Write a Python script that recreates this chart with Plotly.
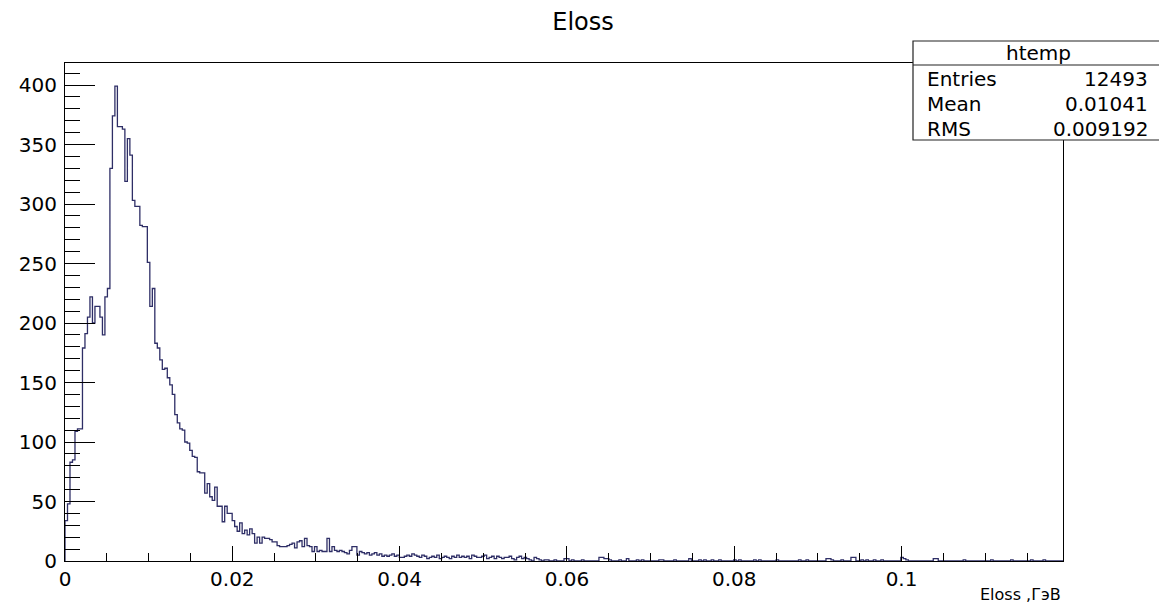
import plotly.graph_objects as go

# ---------------- data ----------------
TITLE = "Eloss"
X_TITLE = "Eloss ,ГэВ"
X_MIN = 0.0
X_MAX = 0.1193
N_BINS = 400
Y_MAX = 418.5

# counts of bins 0..190 (dense part)
COUNTS_DENSE = [
    34, 48, 83, 85, 109, 111, 111, 179, 191, 205,
    222, 200, 214, 214, 205, 190, 222, 229, 330, 374,
    399, 365, 365, 363, 319, 355, 341, 303, 298, 298,
    282, 281, 281, 251, 214, 229, 183, 179, 169, 161,
    162, 154, 148, 140, 123, 116, 111, 110, 100, 99,
    93, 88, 87, 75, 74, 74, 57, 65, 54, 51,
    62, 46, 46, 33, 46, 40, 40, 34, 29, 25,
    32, 23, 26, 22, 27, 23, 15, 20, 15, 20,
    19, 19, 18, 16, 16, 13, 12, 12, 12, 13,
    14, 15, 11, 16, 17, 12, 19, 13, 12, 8,
    12, 8, 9, 8, 8, 19, 8, 12, 9, 8,
    9, 8, 7, 6, 9, 12, 12, 5, 8, 7,
    6, 7, 5, 6, 7, 5, 6, 4, 5, 4,
    5, 6, 4, 5, 3, 3, 4, 5, 4, 6,
    5, 4, 3, 5, 4, 2, 3, 4, 3, 5,
    2, 3, 4, 3, 2, 4, 3, 5, 3, 4,
    3, 4, 2, 5, 4, 3, 3, 4, 5, 2,
    3, 4, 2, 4, 3, 2, 3, 3, 4, 2,
    1, 3, 4, 2, 3, 2, 1, 0, 3, 2,
    1,
]

# sparse tail: bin index -> count (all other tail bins are empty)
TAIL_BINS = [192, 193, 196, 200, 201, 203, 207, 214, 215, 216, 217, 218, 222, 225,
             229, 231, 238, 239, 244, 250, 254, 256, 259, 262, 268, 270, 276, 278,
             285, 294, 297, 305, 306, 307, 311, 315, 316, 319, 321, 324, 327, 335,
             336, 337, 348, 349, 360, 371, 379, 387, 392]
TAIL_COUNTS = [1, 1, 1, 2, 2, 1, 1, 3, 3, 2, 2, 1, 1, 2,
               1, 1, 1, 1, 1, 2, 1, 1, 1, 1, 1, 1, 1, 1,
               1, 1, 1, 2, 2, 1, 1, 3, 3, 1, 1, 1, 1, 3,
               2, 1, 2, 2, 1, 1, 1, 1, 1]

X_TICKS = [0, 0.02, 0.04, 0.06, 0.08, 0.1]
X_TICK_LABELS = ["0", "0.02", "0.04", "0.06", "0.08", "0.1"]
Y_TICKS = [0, 50, 100, 150, 200, 250, 300, 350, 400]
Y_TICK_LABELS = ["0", "50", "100", "150", "200", "250", "300", "350", "400"]

STAT_NAME = "htemp"
STAT_LABELS = ["Entries", "Mean", "RMS"]
STAT_VALUES = ["12493", "0.01041", "0.009192"]

# ---------------- build histogram outline ----------------
counts = list(COUNTS_DENSE) + [0] * (N_BINS - len(COUNTS_DENSE))
for b, c in zip(TAIL_BINS, TAIL_COUNTS):
    counts[b] = c
width = (X_MAX - X_MIN) / N_BINS
edges = [X_MIN + i * width for i in range(N_BINS + 1)]

xs = [edges[0]]
ys = [0]
for i in range(N_BINS):
    xs.append(edges[i])
    ys.append(counts[i])
xs += [edges[-1], edges[-1]]
ys += [counts[-1], 0]

FONT = "DejaVu Sans"
LINE_COLOR = "#2e2e66"

# page body has an 8px margin; work in reference page pixels and convert
OFF = 8
W, H = 1167 - OFF, 606 - OFF
# plot area in reference page pixels: x 65..1063, y 63..561
RL, RR, RT, RB = 65, 1063, 63, 561
L, R, T, B = RL - OFF, RR - OFF, RT - OFF, RB - OFF
PW, PH = R - L, B - T

def px(x):
    return (x - RL) / PW

def py(y):
    return (RB - y) / PH

fig = go.Figure()
fig.add_trace(go.Scatter(
    x=xs, y=ys, mode="lines", line=dict(color=LINE_COLOR, width=1.3, shape="hv"),
    hoverinfo="skip", showlegend=False,
))

fig.update_layout(
    width=W, height=H,
    margin=dict(l=L, r=W - R, t=T, b=H - B),
    paper_bgcolor="white", plot_bgcolor="white",
    font=dict(family=FONT, color="black"),
    title=dict(text=TITLE, x=(583 - OFF) / W, xref="container", xanchor="center",
               y=1 - (22 - OFF) / H, yref="container", yanchor="middle",
               font=dict(family=FONT, size=24, color="black")),
    showlegend=False,
)

fig.update_xaxes(
    range=[X_MIN, X_MAX], showgrid=False, zeroline=False,
    showline=True, linecolor="black", linewidth=1, mirror=True,
    tickmode="array", tickvals=X_TICKS, ticktext=X_TICK_LABELS,
    ticks="inside", ticklen=15, tickwidth=1, tickcolor="black",
    tickfont=dict(family=FONT, size=20, color="black"),
    minor=dict(tickmode="linear", tick0=0, dtick=0.005, ticks="inside",
               ticklen=8, tickwidth=1, tickcolor="black", showgrid=False),
)
fig.update_yaxes(
    range=[0, Y_MAX], showgrid=False, zeroline=False,
    showline=True, linecolor="black", linewidth=1, mirror=True,
    tickmode="array", tickvals=Y_TICKS, ticktext=Y_TICK_LABELS,
    ticks="inside", ticklen=30, tickwidth=1, tickcolor="black",
    ticklabelstandoff=3,
    tickfont=dict(family=FONT, size=20, color="black"),
    minor=dict(tickmode="linear", tick0=0, dtick=10, ticks="inside",
               ticklen=15, tickwidth=1, tickcolor="black", showgrid=False),
)

# x-axis title (right aligned at axis end)
fig.add_annotation(text=X_TITLE, xref="paper", yref="paper", x=1.0, y=py(594),
                   xanchor="right", yanchor="middle", showarrow=False,
                   font=dict(family=FONT, size=16, color="black"))

# stats box
bx0, bx1 = px(913), px(1163)
by_top, by_head, by_bot = py(41), py(65), py(140)
fig.add_shape(type="rect", xref="paper", yref="paper", x0=bx0, x1=bx1, y0=by_bot, y1=by_top,
              line=dict(color="#222222", width=1.2), fillcolor="white", layer="above")
fig.add_shape(type="line", xref="paper", yref="paper", x0=bx0, x1=bx1, y0=by_head, y1=by_head,
              line=dict(color="#222222", width=1.2), layer="above")
fig.add_annotation(text=STAT_NAME, xref="paper", yref="paper", x=(bx0 + bx1) / 2, y=py(53),
                   xanchor="center", yanchor="middle", showarrow=False,
                   font=dict(family=FONT, size=20, color="black"))
row_y = [79, 104, 129]
for lab, val, yy in zip(STAT_LABELS, STAT_VALUES, row_y):
    fig.add_annotation(text=lab, xref="paper", yref="paper", x=px(925), y=py(yy),
                       xanchor="left", yanchor="middle", showarrow=False,
                       font=dict(family=FONT, size=20, color="black"))
    fig.add_annotation(text=val, xref="paper", yref="paper", x=px(1150), y=py(yy),
                       xanchor="right", yanchor="middle", showarrow=False,
                       font=dict(family=FONT, size=20, color="black"))

fig.write_html("out.html")
